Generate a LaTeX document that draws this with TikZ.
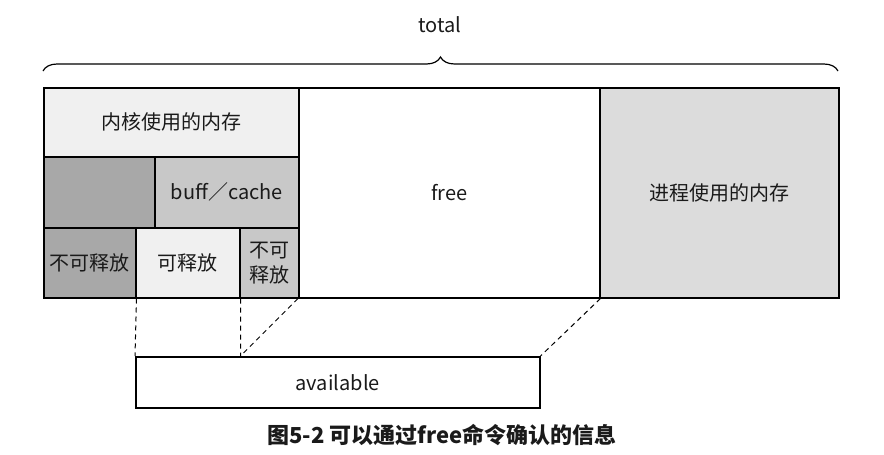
\documentclass[tikz,border=0pt]{standalone}
\usepackage{fontspec}
\setmainfont{Noto Sans CJK SC}
\usetikzlibrary{positioning,decorations.pathreplacing}
\definecolor{lightcell}{HTML}{F0F0F0}
\definecolor{midcell}{HTML}{C8C8C8}
\definecolor{darkcell}{HTML}{A8A8A8}
\definecolor{proccell}{HTML}{DCDCDC}
\definecolor{inktext}{HTML}{1A1A1A}
\tikzset{mem cell/.style={draw,line width=1.5pt,anchor=north west,inner sep=0pt,
            align=center,text=inktext,font=\fontsize{20}{25}\selectfont},
         link line/.style={draw,line width=1pt,dash pattern=on 5pt off 4pt},
            }

\begin{document}
\begin{tikzpicture}[x=1pt,y=-1pt]
    \useasboundingbox (0,0) rectangle (884,455);
    \node[mem cell,fill=lightcell,minimum width=255pt,minimum height=69pt] (kern) at (43,87) {内核使用的内存};
    \node[mem cell,fill=darkcell,minimum width=111pt,minimum height=71pt] (blank) at (43,156) {};
    \node[mem cell,fill=midcell,minimum width=144pt,minimum height=71pt] (buff) at (154,156) {buff／cache};
    \node[mem cell,fill=darkcell,minimum width=92pt,minimum height=70pt] (fixa) at (43,227) {不可释放};
    \node[mem cell,fill=lightcell,minimum width=104pt,minimum height=70pt] (canfree) at (135,227) {可释放};
    \node[mem cell,fill=midcell,minimum width=59pt,minimum height=70pt] (fixb) at (239,227) {不可\\释放};
    \node[mem cell,fill=white,minimum width=301pt,minimum height=210pt] (free) at (298,87) {free};
    \node[mem cell,fill=proccell,minimum width=239pt,minimum height=210pt] (proc) at (599,87) {进程使用的内存};
    \node[mem cell,fill=white,minimum width=404pt,minimum height=51pt] (avail) at (135,356) {available};

    \path[link line]
    (fixa.south east) -- (avail.north west)
    (canfree.south east) -- (canfree.south east |- avail.north)
    (free.south west) -- (canfree.south east |- avail.north)
    (free.south east) -- (avail.north east)
    ;

    \draw[line width=1.2pt,decorate,decoration={brace,amplitude=14pt}] (43,71) -- (838,71);
    \node[text=inktext,font=\fontsize{20}{25}\selectfont] (total) at (440,25) {total};
    \node[text=inktext,font=\fontsize{22}{26}\selectfont\bfseries] (caption) at (442,435) {图5-2 可以通过free命令确认的信息};
\end{tikzpicture}
\end{document}
